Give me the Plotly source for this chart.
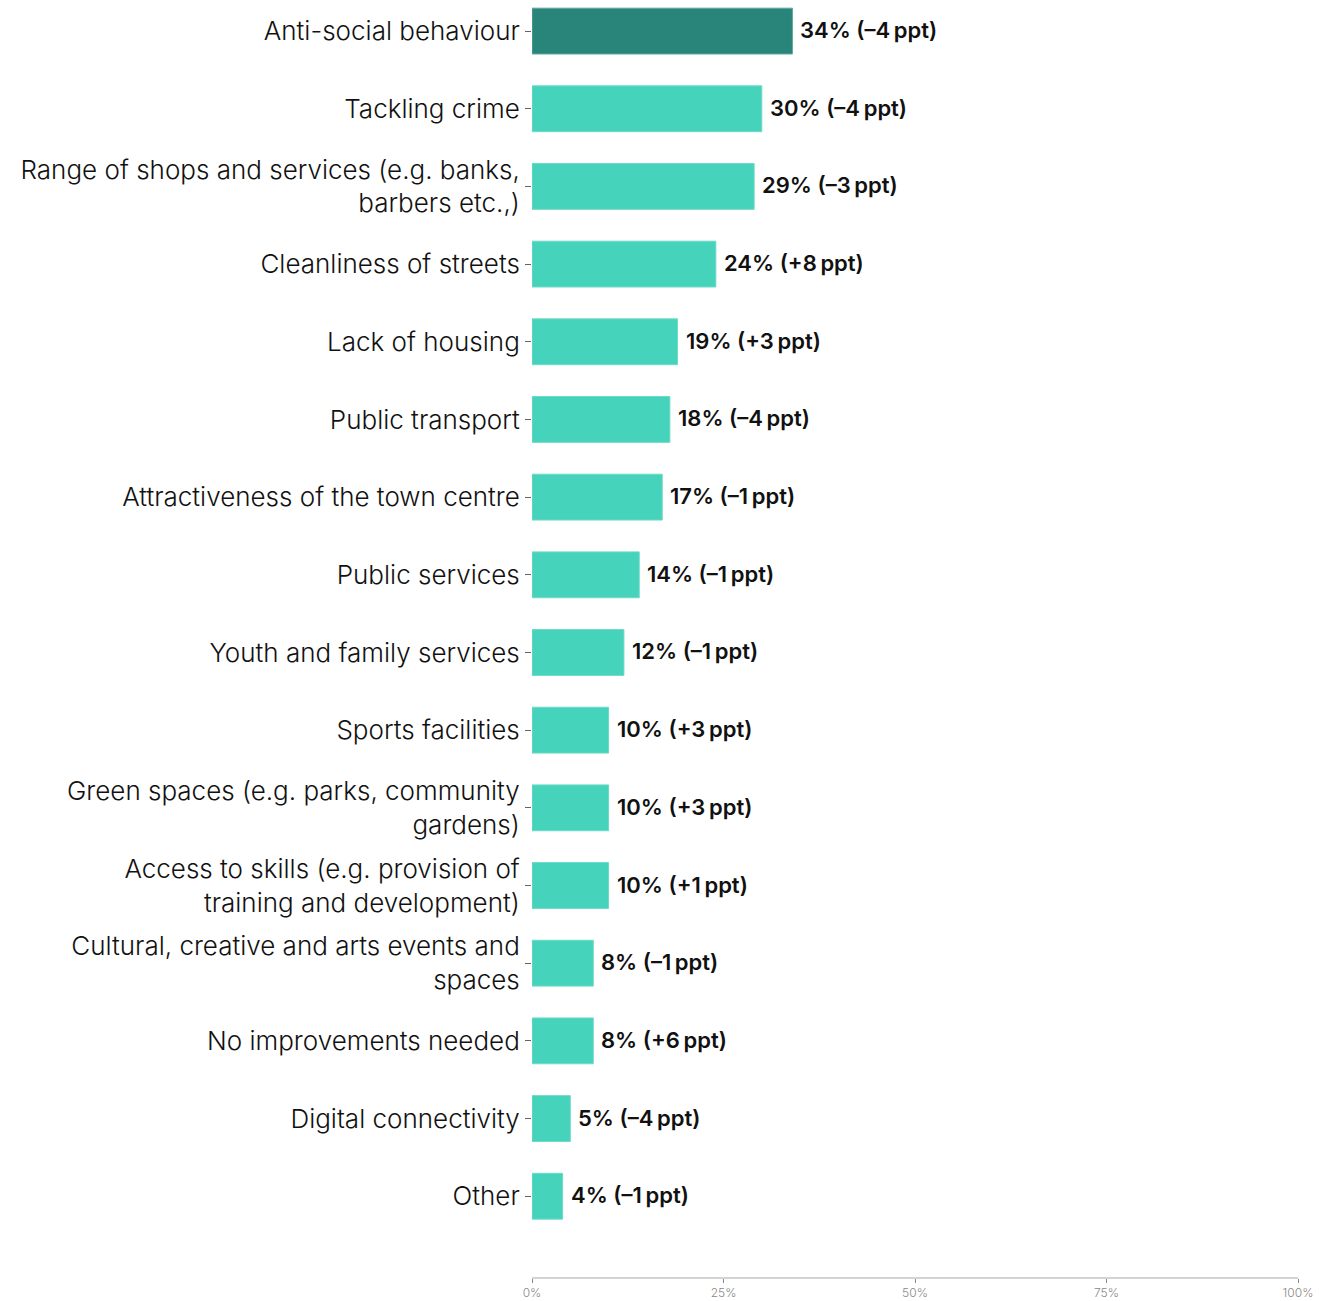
import plotly.graph_objects as go

# Survey: which aspects of the local area most need improving
categories = [
    "Anti-social behaviour",
    "Tackling crime",
    "Range of shops and services (e.g. banks,<br>barbers etc.,)",
    "Cleanliness of streets",
    "Lack of housing",
    "Public transport",
    "Attractiveness of the town centre",
    "Public services",
    "Youth and family services",
    "Sports facilities",
    "Green spaces (e.g. parks, community<br>gardens)",
    "Access to skills (e.g. provision of<br>training and development)",
    "Cultural, creative and arts events and<br>spaces",
    "No improvements needed",
    "Digital connectivity",
    "Other",
]
shares = [34, 30, 29, 24, 19, 18, 17, 14, 12, 10, 10, 10, 8, 8, 5, 4]
changes = [-4, -4, -3, 8, 3, -4, -1, -1, -1, 3, 3, 1, -1, 6, -4, -1]
tick_values = [0, 25, 50, 75, 100]
tick_labels = ["0%", "25%", "50%", "75%", "100%"]

HIGHLIGHT = "#29857A"
BASE = "#45D3BB"
FONT = "Inter"

def fmt_change(c):
    sign = "+" if c > 0 else "–"
    return f"{sign}{abs(c)}\u2009ppt"

labels = [f"{s}% ({fmt_change(c)})" for s, c in zip(shares, changes)]
colors = [HIGHLIGHT] + [BASE] * (len(shares) - 1)
outlines = ["#5FA89E"] + ["#6ED9C6"] * (len(shares) - 1)

fig = go.Figure(
    go.Bar(
        x=shares,
        y=categories,
        orientation="h",
        marker=dict(color=colors, line=dict(color=outlines, width=1)),
        width=0.59,
        hoverinfo="skip",
    )
)

# value labels placed just past the end of each bar
for cat, val, txt in zip(categories, shares, labels):
    fig.add_annotation(
        x=val,
        y=cat,
        text=txt,
        showarrow=False,
        xanchor="left",
        yanchor="middle",
        xshift=6,
        yshift=1,
        font=dict(family=FONT, size=22, color="#111111", weight=600),
    )

fig.update_layout(
    width=1334,
    height=1301,
    margin=dict(l=532, r=36, t=0, b=24),
    paper_bgcolor="white",
    plot_bgcolor="white",
    showlegend=False,
)

fig.update_yaxes(
    categoryorder="array",
    categoryarray=categories,
    range=[16.04, -0.4],
    automargin=False,
    showgrid=False,
    showline=False,
    ticks="outside",
    ticklen=6,
    tickcolor="#666666",
    tickfont=dict(family=FONT, size=26, color="#111111", weight=300),
    ticklabelstandoff=0,
)

fig.update_xaxes(
    range=[0, 100],
    tickvals=tick_values,
    ticktext=tick_labels,
    automargin=False,
    showgrid=False,
    zeroline=False,
    showline=True,
    linecolor="#D3D3D3",
    linewidth=2,
    ticks="outside",
    ticklen=4,
    tickcolor="#888888",
    tickfont=dict(family=FONT, size=12, color="#888888", weight=300),
    ticklabelstandoff=0,
)

fig.write_html("out.html")
